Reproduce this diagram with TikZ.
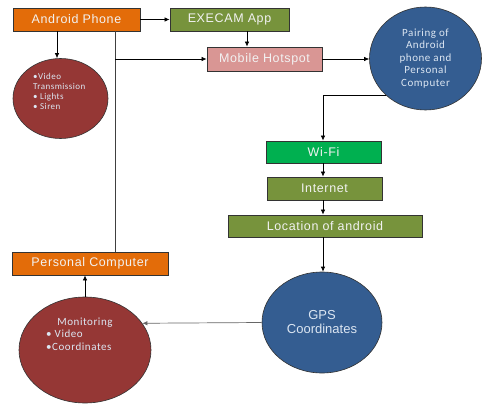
\documentclass[tikz,border=0pt]{standalone}
\usepackage{fontspec}
\usetikzlibrary{shapes.geometric,arrows.meta,calc}
\newfontfamily\boxfont[LetterSpace=5]{Liberation Sans}
\newfontfamily\plainfont{Liberation Sans}
\newfontfamily\ellfont[LetterSpace=5]{Carlito}
\definecolor{orangeB}{HTML}{E36C09}
\definecolor{oliveB}{HTML}{77933C}
\definecolor{pinkB}{HTML}{D99694}
\definecolor{greenB}{HTML}{00B050}
\definecolor{blueE}{HTML}{345D91}
\definecolor{redE}{HTML}{953735}
\definecolor{txtB}{HTML}{F2F2F2}
\definecolor{txtE}{HTML}{DCE6F2}
\tikzset{
  x=1pt,y=-1pt,
  rbox/.style={draw=black!80,line width=0.8pt,text=txtB,inner sep=0pt,
    font=\boxfont\fontsize{12.5}{14}\selectfont},
  ell/.style={ellipse,draw=black!80,line width=0.6pt,inner sep=0pt},
  arr/.style={-{Latex[length=5pt,width=4.5pt]},line width=0.7pt,black},
  ln/.style={line width=0.7pt,black!75},
}
\begin{document}
\begin{tikzpicture}
\useasboundingbox (0,0) rectangle (482,404);
% boxes
\node[rbox,fill=orangeB,minimum width=127pt,minimum height=23pt] (and) at (76.5,19.5) {Android Phone};
\node[rbox,fill=oliveB,minimum width=119pt,minimum height=23pt] (exe) at (229.5,19.5) {EXECAM App};
\node[rbox,fill=pinkB,minimum width=115pt,minimum height=24pt] (hot) at (264.5,59) {Mobile Hotspot};
\node[rbox,fill=greenB,minimum width=115pt,minimum height=22pt] (wifi) at (323.5,152) {Wi-Fi};
\node[rbox,fill=oliveB,minimum width=115pt,minimum height=23pt] (inet) at (324.5,188.5) {Internet};
\node[rbox,fill=oliveB,minimum width=194pt,minimum height=22pt] (loc) at (325,226) {Location of android};
\node[rbox,fill=orangeB,minimum width=156pt,minimum height=23pt] (pc) at (90,263.5) {Personal Computer};
% ellipses
\node[ell,fill=redE,minimum width=95pt,minimum height=80pt] (vid) at (60.5,98.5) {};
\node[text=txtE,font=\ellfont\fontsize{9}{10}\selectfont,align=left,anchor=north west,inner sep=0pt] (vidt) at (33,73.5)
  {•Video\\Transmission\\• Lights\\• Siren};
\node[ell,fill=blueE,minimum width=112pt,minimum height=103pt,text=txtE,
  font=\ellfont\fontsize{11}{12.5}\selectfont,align=center] (pair) at (425.5,58.5)
  {Pairing of\\Android\\phone and\\Personal\\Computer};
\node[ell,fill=blueE,minimum width=120pt,minimum height=101pt,text=txtE,
  font=\plainfont\fontsize{13}{14}\selectfont,align=center] (gps) at (322,322.5)
  {GPS\\Coordinates};
\node[ell,fill=redE,minimum width=132pt,minimum height=106pt] (mon) at (85,350) {};
\node[text=txtE,font=\ellfont\fontsize{11}{12.5}\selectfont,anchor=center,inner sep=0pt] (mont) at (85,323) {Monitoring};
\node[text=txtE,font=\ellfont\fontsize{11}{12.5}\selectfont,align=left,anchor=north west,inner sep=0pt] (monl) at (46,330)
  {• Video\\•Coordinates};
% helper coordinates
\coordinate (trunk) at (115,0);
\coordinate (colA) at (247,0);
\coordinate (colB) at (323,0);
\coordinate (colV) at (57,0);
% connectors
\draw[arr] (and.east) -- (exe.west);
\draw[arr] (exe.south -| colA) -- (hot.north -| colA);
\draw[arr] (and.south -| colV) -- (vid.north -| colV);
\draw[ln] (and.south -| trunk) -- (pc.north -| trunk);
\draw[arr] (hot.west -| trunk) -- (hot.west);
\draw[arr] (hot.east) -- (pair.west |- hot.east);
\draw[arr] (pair.south west) -| (wifi.north -| colB);
\draw[arr] (wifi.south -| colB) -- (inet.north -| colB);
\draw[arr] (inet.south -| colB) -- (loc.north -| colB);
\draw[arr] (loc.south -| colB) -- (gps.north -| colB);
\draw[arr,black!60] (gps.west) -- (mon.25.4);
\draw[arr] (mon.north) -- (mon.north |- pc.south);
\end{tikzpicture}
\end{document}
